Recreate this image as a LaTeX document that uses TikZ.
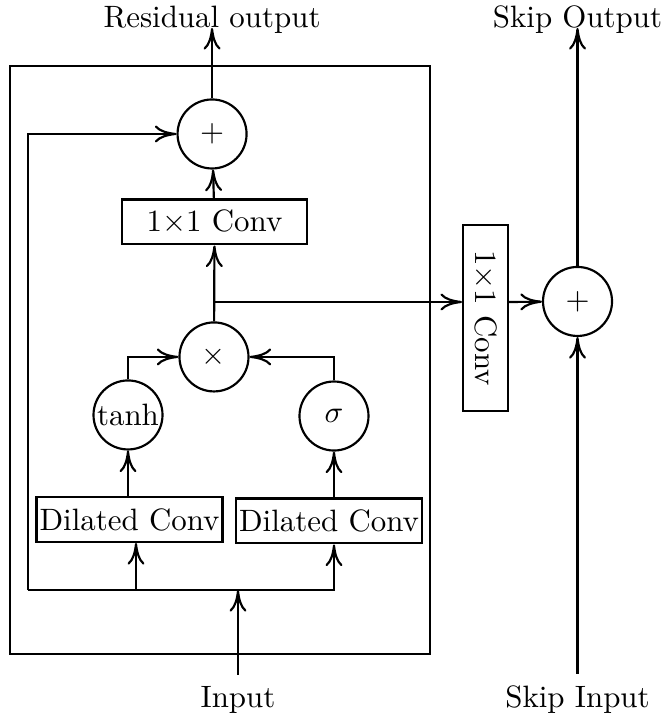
\documentclass[tikz,border=0pt]{standalone}
\usepackage{amsmath}
\usetikzlibrary{arrows.meta}

\begin{document}
\begin{tikzpicture}[line width=0.7pt, >={To[length=7pt,width=5.5pt]},
    opnode/.style={draw, circle, minimum size=0.785cm, inner sep=0pt},
    convbox/.style={draw, rectangle, minimum width=2.11cm, minimum height=0.51cm, inner sep=1pt}]
      \useasboundingbox (0,0) rectangle (7.564,8.110);
      % Residual block frame
      \draw (0.114,0.671) rectangle (4.891,7.360);
      % Labels
      \node[anchor=base] (resout) at (2.412,7.792) {Residual output};
      \node[anchor=base] (skipout) at (6.569,7.792) {Skip Output};
      \node[anchor=base] (inp) at (2.707,0.068) {Input};
      \node[anchor=base] (skipin) at (6.569,0.068) {Skip Input};
      % Gated activation
      \node[convbox] (dilleft) at (1.473,2.201) {Dilated Conv};
      \node[convbox] (dilright) at (3.742,2.184) {Dilated Conv};
      \node[opnode] (tanhop) at (1.456,3.390) {tanh};
      \node[opnode] (sigop) at (3.799,3.378) {$\sigma$};
      \node[opnode] (gate) at (2.434,4.050) {$\times$};
      % Residual path
      \node[convbox] (resconv) at (2.440,5.585) {1$\times$1 Conv};
      \node[opnode] (resadd) at (2.412,6.586) {$+$};
      % Skip path
      \node[convbox, rotate=-90] (skipconv) at (5.523,4.493) {1$\times$1 Conv};
      \node[opnode] (skipadd) at (6.569,4.681) {$+$};
      % Junctions
      \coordinate (split) at (2.707,1.399);
      \coordinate (skipcorner) at (0.319,1.399);
      \coordinate (leftfork) at (1.547,1.399);
      \coordinate (tap) at (2.434,4.675);
      % Input and residual connection
      \draw[->] (inp.north) -- (split);
      \draw[->] (skipcorner) |- (resadd);
      \draw[->] (skipcorner) -| (dilright.south -| sigop);
      \draw[->] (leftfork) -- (leftfork |- dilleft.south);
      \draw[->] (dilleft.north -| tanhop) -- (tanhop);
      \draw[->] (dilright.north -| sigop) -- (sigop);
      \draw[->] (tanhop) |- (gate);
      \draw[->] (sigop) |- (gate);
      \draw[->] (gate) -- (resconv);
      \draw[->] (resconv) -- (resadd);
      \draw[->] (resadd) -- (resout.base);
      % Skip connection
      \draw[->] (tap) -- (tap -| skipconv.south);
      \draw[->] (tap -| skipconv.north) -- (skipadd);
      \draw[->] (skipin.north) -- (skipadd);
      \draw[->] (skipadd) -- (skipout.base);
    \end{tikzpicture}
\end{document}
